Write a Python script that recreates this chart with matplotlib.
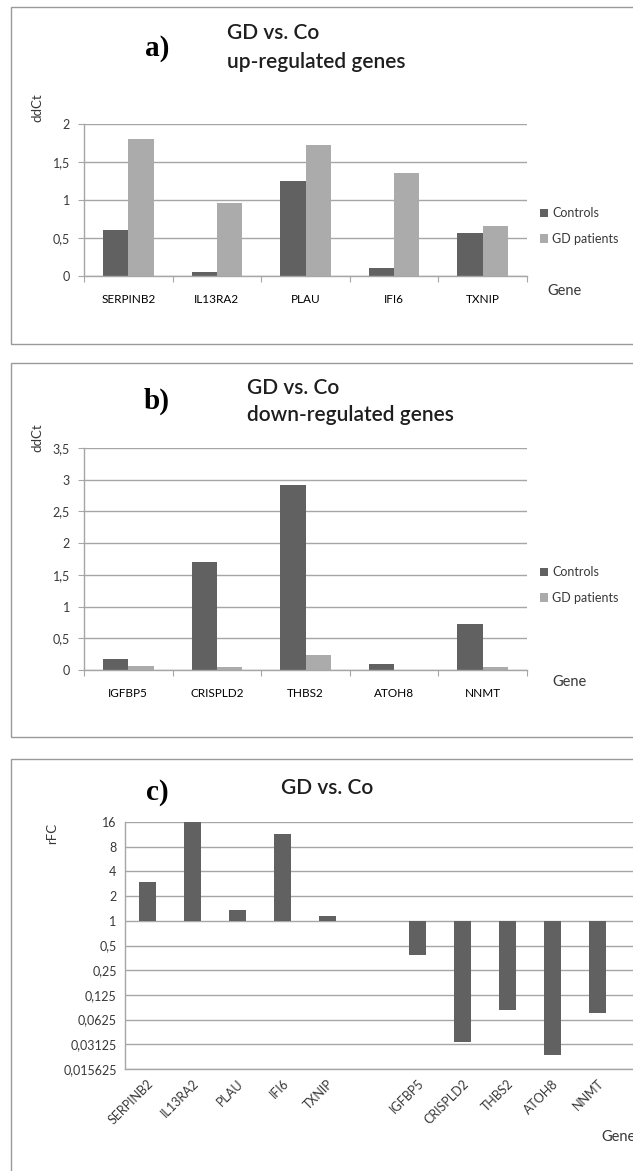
import numpy as np
import matplotlib.pyplot as plt
from matplotlib.patches import Rectangle

plt.rcParams['font.family'] = ['Lato', 'DejaVu Sans']

# data
up_genes = ['SERPINB2', 'IL13RA2', 'PLAU', 'IFI6', 'TXNIP']
up_controls = [0.60, 0.05, 1.25, 0.11, 0.57]
up_gd = [1.80, 0.96, 1.73, 1.36, 0.66]

down_genes = ['IGFBP5', 'CRISPLD2', 'THBS2', 'ATOH8', 'NNMT']
down_controls = [0.18, 1.70, 2.92, 0.10, 0.72]
down_gd = [0.07, 0.05, 0.23, 0.005, 0.05]

rfc_up = [2.95, 16.0, 1.37, 11.5, 1.15]
rfc_down = [0.38, 0.033, 0.082, 0.023, 0.075]

a_ticks = [0, 0.5, 1, 1.5, 2]
a_ticklabels = ['0', '0,5', '1', '1,5', '2']
b_ticks = [0, 0.5, 1, 1.5, 2, 2.5, 3, 3.5]
b_ticklabels = ['0', '0,5', '1', '1,5', '2', '2,5', '3', '3,5']
c_ticks = [2.0 ** k for k in range(-6, 5)]
c_ticklabels = ['0,015625', '0,03125', '0,0625', '0,125', '0,25', '0,5',
                '1', '2', '4', '8', '16']

dark = '#616161'
light = '#ababab'
grid = '#a6a6a6'
txt = '#383838'

W, H = 633, 1171
fig = plt.figure(figsize=(W / 100, H / 100), dpi=100)
fig.patch.set_facecolor('white')


def box(l, t, r, b):
    return [l / W, 1 - b / H, (r - l) / W, (b - t) / H]


def fx(x):
    return x / W


def fy(y):
    return 1 - y / H


# panel frames
for t, b in [(7, 344), (363, 737), (759, 1190)]:
    fig.patches.append(Rectangle((fx(11), fy(b)), fx(700), (b - t) / H,
                                 transform=fig.transFigure, fill=False,
                                 edgecolor='#9a9a9a', lw=1.0))


def style(ax):
    for s in ['top', 'right']:
        ax.spines[s].set_visible(False)
    for s in ['left', 'bottom']:
        ax.spines[s].set_color(grid)
        ax.spines[s].set_linewidth(1.0)
    ax.yaxis.grid(True, color=grid, lw=1.0)
    ax.set_axisbelow(True)
    ax.tick_params(colors=grid, labelcolor=txt, labelsize=9)


def grouped(rect, genes, ctrl, gd, ticks, ticklabels, top):
    ax = fig.add_axes(rect)
    x = np.arange(len(genes))
    w = 0.285
    ax.bar(x - w / 2, ctrl, w, color=dark, label='Controls')
    ax.bar(x + w / 2, gd, w, color=light, label='GD patients')
    ax.set_xlim(-0.5, len(genes) - 0.5)
    ax.set_ylim(0, top)
    ax.set_yticks(ticks)
    ax.set_yticklabels(ticklabels)
    ax.set_xticks(np.arange(-0.5, len(genes), 1))
    ax.set_xticklabels([])
    ax.set_xticks(x, minor=True)
    ax.set_xticklabels(genes, minor=True, fontsize=8.5)
    ax.tick_params(axis='x', which='minor', length=0, pad=13)
    ax.tick_params(axis='both', which='major', length=4, pad=6)
    style(ax)
    return ax


ax1 = grouped(box(84, 124, 527, 276), up_genes, up_controls, up_gd,
              a_ticks, a_ticklabels, 2)
ax2 = grouped(box(84, 448, 527, 670), down_genes, down_controls, down_gd,
              b_ticks, b_ticklabels, 3.5)

for ax, ly in [(ax1, 226), (ax2, 585)]:
    h, l = ax.get_legend_handles_labels()
    ax.legend(h, l, loc='center left', bbox_to_anchor=(fx(537), fy(ly)),
              bbox_transform=fig.transFigure, frameon=False, fontsize=9,
              handlelength=0.7, handleheight=0.7, handletextpad=0.3,
              labelspacing=1.05, labelcolor=txt, borderaxespad=0,
              borderpad=0.2)

# panel c
ax3 = fig.add_axes(box(125, 822, 665, 1069))
xc = list(range(5)) + list(range(6, 11))
vals = rfc_up + rfc_down
ax3.bar(xc, [v - 1 for v in vals], 0.38, bottom=1, color=dark)
ax3.set_yscale('log', base=2)
ax3.set_ylim(2.0 ** -6, 16)
ax3.set_xlim(-0.5, 11.5)
ax3.set_yticks(c_ticks)
ax3.set_yticklabels(c_ticklabels)
ax3.minorticks_off()
ax3.set_xticks(xc)
ax3.set_xticklabels(up_genes + down_genes, rotation=45, ha='right',
                    rotation_mode='anchor', fontsize=8.8)
style(ax3)
ax3.tick_params(axis='x', length=0, pad=6)
ax3.tick_params(axis='y', length=0, pad=6)

# texts
serif = dict(family=['Liberation Serif', 'DejaVu Serif'], fontweight='bold',
             fontsize=21, color='black', ha='center', va='center')
fig.text(fx(157), fy(48), 'a)', **serif)
fig.text(fx(157), fy(401), 'b)', **serif)
fig.text(fx(157), fy(792), 'c)', **serif)

title = dict(fontsize=15, fontweight='semibold', color='#1e1e1e', va='center')
fig.text(fx(227), fy(33), 'GD vs. Co', **title)
fig.text(fx(227), fy(62), 'up-regulated genes', **title)
fig.text(fx(247), fy(388), 'GD vs. Co', **title)
fig.text(fx(247), fy(415), 'down-regulated genes', **title)
fig.text(fx(327), fy(788), 'GD vs. Co', ha='center', **title)

lab = dict(fontsize=9.5, color=txt, rotation=90, ha='center', va='center')
fig.text(fx(37), fy(108), 'ddCt', **lab)
fig.text(fx(37), fy(438), 'ddCt', **lab)
fig.text(fx(52), fy(833), 'rFC', **lab)

gene = dict(fontsize=10.5, color=txt, va='center', ha='left')
fig.text(fx(547), fy(291), 'Gene', **gene)
fig.text(fx(552), fy(682), 'Gene', **gene)
fig.text(fx(601), fy(1137), 'Gene', **gene)

fig.savefig('out.png', dpi=100)
